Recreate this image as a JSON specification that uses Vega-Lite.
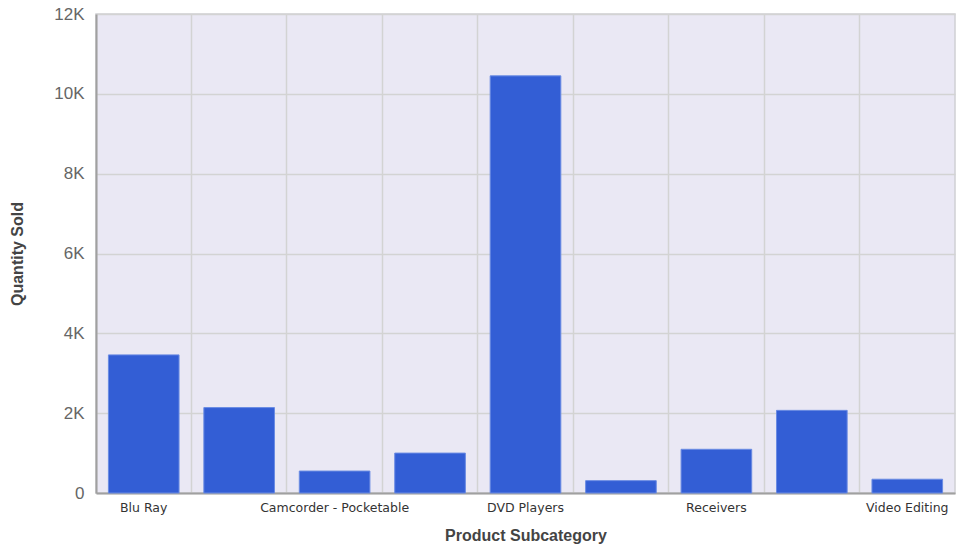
{
  "$schema": "https://vega.github.io/schema/vega-lite/v6.json",
  "width": 859,
  "height": 479,
  "autosize": {"type": "none"},
  "padding": {"left": 96, "top": 14, "right": 3, "bottom": 54},
  "background": "#ffffff",
  "config": {
    "view": {"fill": "#EAE8F4", "stroke": "#CFCFD4", "strokeWidth": 1.5},
    "font": "Liberation Sans"
  },
  "data": {
    "values": [
      {"subcategory": "Blu Ray", "quantity": 3460},
      {"subcategory": "Boom Box", "quantity": 2140},
      {"subcategory": "Camcorder - Pocketable", "quantity": 550},
      {"subcategory": "Charger", "quantity": 1000},
      {"subcategory": "DVD Players", "quantity": 10450},
      {"subcategory": "DVD Players - Portable", "quantity": 310},
      {"subcategory": "Receivers", "quantity": 1095},
      {"subcategory": "Speaker Kits", "quantity": 2070},
      {"subcategory": "Video Editing", "quantity": 345}
    ]
  },
  "mark": {"type": "bar", "color": "#335ED5", "stroke": "#6A8BE3", "strokeWidth": 1, "width": {"band": 0.74}},
  "encoding": {
    "x": {
      "field": "subcategory",
      "type": "nominal",
      "sort": null,
      "scale": {"paddingInner": 0, "paddingOuter": 0},
      "axis": {
        "title": "Product Subcategory",
        "titleFontSize": 16,
        "titleFontWeight": "bold",
        "titleColor": "#444444",
        "titlePadding": 14,
        "labelAngle": 0,
        "labelFont": "DejaVu Sans",
        "labelFontSize": 12.5,
        "labelColor": "#333333",
        "labelPadding": 8,
        "labelOverlap": false,
        "labelLimit": 200,
        "labelExpr": "indexof(['Blu Ray','Camcorder - Pocketable','DVD Players','Receivers','Video Editing'], datum.value) >= 0 ? datum.value : ''",
        "ticks": false,
        "grid": true,
        "bandPosition": 0,
        "gridColor": "#D3D3D3",
        "gridWidth": 1.5,
        "domainColor": "#A0A0A0",
        "domainWidth": 2
      }
    },
    "y": {
      "field": "quantity",
      "type": "quantitative",
      "scale": {"domain": [0, 12000], "nice": false},
      "axis": {
        "title": "Quantity Sold",
        "titleFontSize": 16,
        "titleFontWeight": "bold",
        "titleColor": "#444444",
        "titlePadding": 28,
        "values": [0, 2000, 4000, 6000, 8000, 10000, 12000],
        "labelExpr": "datum.value == 0 ? '0' : (datum.value / 1000) + 'K'",
        "labelFontSize": 17,
        "labelColor": "#666666",
        "labelPadding": 12,
        "ticks": false,
        "grid": true,
        "gridColor": "#D3D3D3",
        "gridWidth": 1.5,
        "domainColor": "#A0A0A0",
        "domainWidth": 2
      }
    }
  }
}
